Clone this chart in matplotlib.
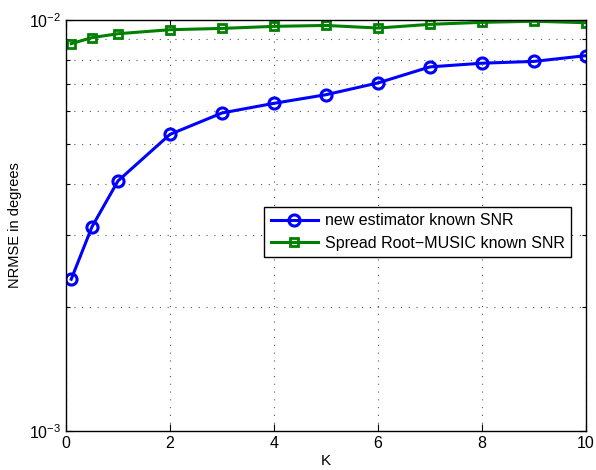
import numpy as np
import matplotlib
matplotlib.use("Agg")
from matplotlib import pyplot as plt

# data
K = [0.1, 0.5, 1, 2, 3, 4, 5, 6, 7, 8, 9, 10]
new_est = [2.34e-3, 3.14e-3, 4.06e-3, 5.27e-3, 5.94e-3, 6.27e-3,
           6.58e-3, 7.03e-3, 7.69e-3, 7.85e-3, 7.93e-3, 8.19e-3]
root_music = [8.76e-3, 9.06e-3, 9.26e-3, 9.47e-3, 9.54e-3, 9.65e-3,
              9.70e-3, 9.56e-3, 9.76e-3, 9.87e-3, 9.93e-3, 9.85e-3]
xticks = [0, 2, 4, 6, 8, 10]

plt.rcParams['font.family'] = ['Liberation Sans', 'DejaVu Sans']
plt.rcParams['mathtext.fontset'] = 'custom'
plt.rcParams['mathtext.rm'] = 'Liberation Sans'

fig = plt.figure(figsize=(5.96, 4.70), dpi=100)
ax = fig.add_axes([66/596, 39/470, 520/596, 411/470])

ax.semilogy(K, new_est, '-o', color='#0000ff', lw=2.2, ms=8,
            mfc='none', mew=2.2, label='new estimator known SNR')
ax.semilogy(K, root_music, '-s', color='#008000', lw=2.2, ms=6,
            mfc='none', mew=2.0, label='Spread Root\u2212MUSIC known SNR')

ax.set_xlim(0, 10)
ax.set_ylim(1e-3, 1e-2)
ax.set_xticks(xticks)
ax.grid(True, which='major', axis='x', ls=(0, (1, 6)), color='#555555', lw=0.8)
ax.grid(True, which='minor', axis='y', ls=(0, (1, 6)), color='#555555', lw=0.8)
ax.tick_params(which='both', direction='in', top=True, right=True,
               labelsize=11.5, width=0.8)
ax.tick_params(which='major', length=5)
ax.tick_params(which='minor', length=3)
ax.yaxis.set_minor_formatter(matplotlib.ticker.NullFormatter())
for s in ax.spines.values():
    s.set_linewidth(1.0)

ax.set_xlabel('K', fontsize=11, labelpad=2)
ax.set_ylabel('NRMSE in degrees', fontsize=10.5, labelpad=5)

leg = ax.legend(loc='upper left', bbox_to_anchor=(0.381, 0.545),
                fontsize=11.5, fancybox=False, framealpha=1,
                edgecolor='black', handlelength=3.0, handletextpad=0.4,
                borderpad=0.4, labelspacing=0.45, borderaxespad=0)
leg.get_frame().set_linewidth(1.0)

fig.savefig('out.png', dpi=100)
